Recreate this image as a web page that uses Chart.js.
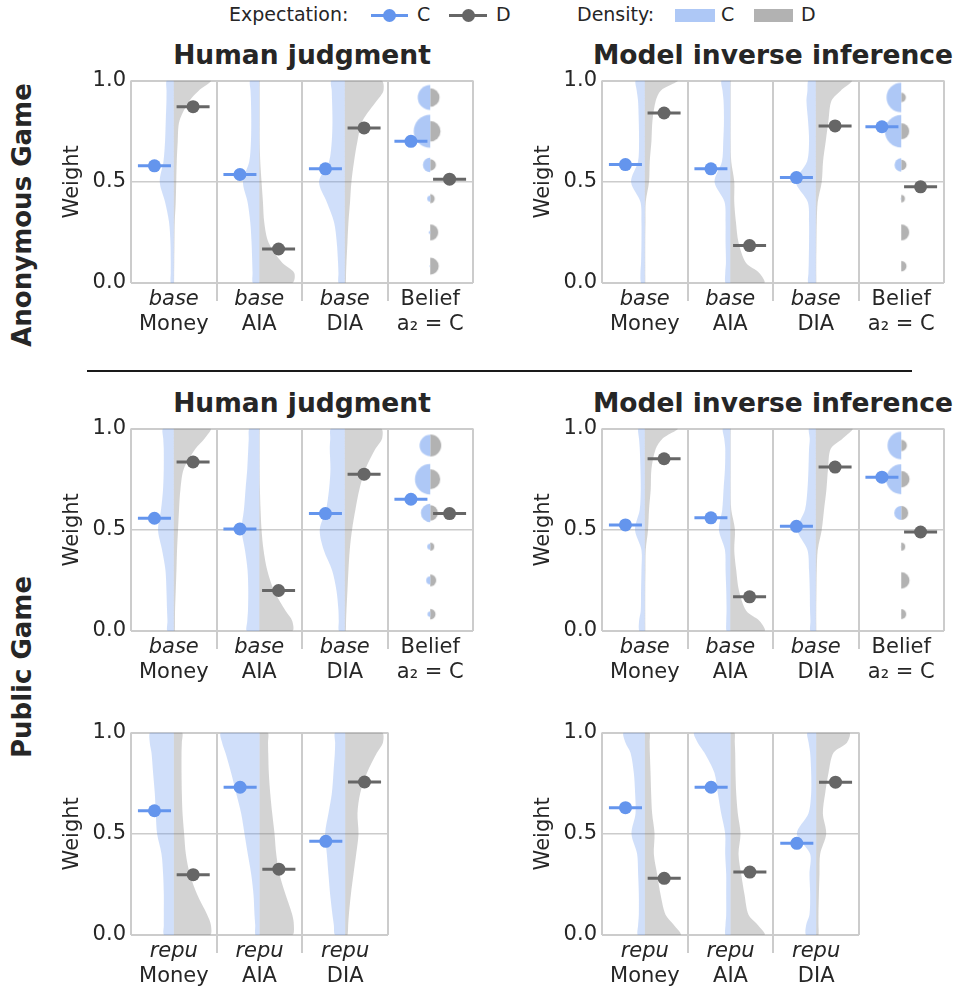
<!DOCTYPE html>
<html><head><meta charset="utf-8">
<script src="https://cdn.jsdelivr.net/npm/chart.js@4.4.1/dist/chart.umd.min.js"></script>
<style>
html,body{margin:0;padding:0;background:#fff}
body{width:958px;height:991px;position:relative;overflow:hidden;font-family:'DejaVu Sans',sans-serif;color:#262626}
canvas{position:absolute}
.ttl{position:absolute;font-weight:bold;font-size:26.5px;line-height:26.5px;white-space:nowrap;transform:translateX(-50%)}
.row{position:absolute;font-weight:bold;font-size:26px;line-height:26px;white-space:nowrap;transform:translate(-50%,-50%) rotate(-90deg)}
.lg{position:absolute;font-size:19px;line-height:19px;white-space:nowrap;top:5.4px}
.bar{position:absolute;height:3px;top:13.5px}
.dot{position:absolute;width:13px;height:13px;border-radius:50%;top:8.5px}
.patch{position:absolute;top:9px;height:13px}
</style></head><body>

<div class="lg" style="left:229px">Expectation:</div>
<div class="bar" style="left:371px;width:37px;background:#6495ED"></div>
<div class="dot" style="left:383px;background:#6495ED"></div>
<div class="lg" style="left:417px">C</div>
<div class="bar" style="left:449px;width:38px;background:#666666"></div>
<div class="dot" style="left:461.5px;background:#666666"></div>
<div class="lg" style="left:496px">D</div>
<div class="lg" style="left:577px">Density:</div>
<div class="patch" style="left:675px;width:40px;background:rgb(174,200,246)"></div>
<div class="lg" style="left:721px">C</div>
<div class="patch" style="left:754px;width:39px;background:rgb(178,178,178)"></div>
<div class="lg" style="left:801px">D</div>

<div class="ttl" style="left:302px;top:41.6px">Human judgment</div>
<div class="ttl" style="left:773px;top:41.6px">Model inverse inference</div>
<div class="ttl" style="left:302px;top:389.6px">Human judgment</div>
<div class="ttl" style="left:773px;top:389.6px">Model inverse inference</div>

<div class="row" style="left:22px;top:215px">Anonymous Game</div>
<div class="row" style="left:22px;top:667px">Public Game</div>
<div style="position:absolute;left:87px;width:825px;top:370px;height:1.6px;background:#1a1a1a"></div>

<script>
// ---------------- DATA ----------------
const yLevels = [0, 0.05, 0.1, 0.2, 0.3, 0.4, 0.5, 0.6, 0.7, 0.8, 0.9, 0.95, 1.0];
const beliefLevels = [1/12, 3/12, 5/12, 7/12, 9/12, 11/12];
const yTicks = [0, 0.5, 1.0];

const topBase = ['base', 'base', 'base', 'Belief'];
const bottomBase = ['Money', 'AIA', 'DIA', 'a\u2082 = C'];
const topRepu = ['repu', 'repu', 'repu'];
const bottomRepu = ['Money', 'AIA', 'DIA'];

// expectation means (C / D)
const anonHumanC = [0.579, 0.536, 0.564, 0.700];
const anonHumanD = [0.871, 0.168, 0.766, 0.513];
const anonModelC = [0.585, 0.564, 0.521, 0.772];
const anonModelD = [0.840, 0.185, 0.776, 0.475];
const pubHumanC = [0.557, 0.504, 0.580, 0.651];
const pubHumanD = [0.835, 0.200, 0.775, 0.580];
const pubModelC = [0.524, 0.559, 0.517, 0.760];
const pubModelD = [0.851, 0.169, 0.810, 0.489];
const pubHumanRepuC = [0.614, 0.730, 0.463];
const pubHumanRepuD = [0.298, 0.325, 0.756];
const pubModelRepuC = [0.629, 0.730, 0.453];
const pubModelRepuD = [0.280, 0.311, 0.755];

// violin densities at yLevels (Money, AIA, DIA)
const anonHumanDensC = [
  [3, 3, 3, 3.3, 4.7, 8.7, 14, 10.3, 8.7, 8, 7.3, 7.2, 7],
  [6.3, 6.7, 7, 7.7, 9, 11.7, 16.3, 10, 8.3, 8, 8.3, 8.7, 9],
  [6, 6.3, 6.7, 8, 10.7, 18, 25.7, 15.7, 13, 12.3, 12.7, 13, 13.3]];
const anonHumanDensD = [
  [0.3, 0.4, 0.5, 0.7, 1, 2, 2.5, 3, 4, 5.7, 15.7, 25, 37],
  [33, 35, 23, 9.3, 5, 3.7, 2.3, 1, 0.5, 0.5, 0.5, 0.5, 0.5],
  [1, 1.3, 1.7, 2.7, 3.7, 5.3, 6.7, 9.3, 12.7, 17.7, 32, 38.7, 36.7]];
const anonModelDensC = [
  [3.7, 4.3, 3.7, 3.3, 3.3, 4.3, 13.7, 6.7, 5.7, 6, 6.7, 8, 9],
  [4.7, 5, 4.3, 4.7, 4.7, 5.7, 15.7, 8.3, 7, 6.3, 6.7, 7.7, 8.7],
  [7.3, 7.3, 7, 6.7, 6.7, 8, 20, 8.7, 6.7, 7.7, 9.3, 8.3, 7.3]];
const anonModelDensD = [
  [0.5, 0.5, 0.5, 0.5, 0.7, 1, 4.3, 5, 6.7, 7.7, 11, 16, 33],
  [34, 29, 15.7, 8.3, 5.7, 4, 4, 1, 0.5, 0.5, 0.5, 0.5, 0.5],
  [0.5, 0.5, 0.5, 0.7, 1, 2, 6, 7.3, 10, 12.7, 15.7, 25, 36]];
const pubHumanDensC = [
  [6.3, 6.3, 6.7, 7.3, 8.3, 11.7, 15.7, 12.7, 10.7, 10, 10, 10.5, 10.7],
  [12.3, 12, 11.3, 11, 11.7, 14.3, 17.7, 15.3, 13.7, 12, 11, 10.5, 9.7],
  [5.7, 6, 6.3, 8.3, 12.7, 21, 25, 18.7, 15.7, 14.3, 15, 14.5, 13.7]];
const pubHumanDensD = [
  [1, 1.2, 1.3, 2, 2.7, 3.3, 4.3, 5.3, 6.7, 10, 21.7, 30.7, 36.7],
  [33, 33, 26.3, 14.7, 8, 4.3, 2.3, 1.3, 0.7, 0.5, 0.5, 0.5, 0.5],
  [1, 1.3, 1.7, 2.7, 3.7, 5, 7.3, 10.7, 14.7, 20.7, 30.7, 37.3, 36.3]];
const pubModelDensC = [
  [5.3, 5.7, 4, 3.7, 3.3, 3.3, 9.7, 5, 4, 4.3, 5, 5.7, 6.3],
  [3.7, 4, 3.7, 4, 4.7, 5.3, 11.3, 8, 6.7, 5.3, 5, 6, 7.3],
  [5.3, 5.3, 5.7, 6, 6.7, 8.3, 18.3, 10.7, 8.3, 7.3, 6.7, 6, 6.7]];
const pubModelDensD = [
  [0.5, 0.5, 0.5, 0.5, 0.7, 1, 3.3, 4.3, 6, 6.7, 11, 17.7, 33],
  [34.3, 29.3, 16, 8.7, 6, 4, 4.7, 1, 0.5, 0.5, 0.5, 0.5, 0.5],
  [0.5, 0.5, 0.5, 0.7, 1, 2, 6, 8.3, 10.7, 12.3, 15, 26.7, 36.7]];
const pubHumanRepuDensC = [
  [9.7, 10, 10, 10, 10.7, 12.3, 16.7, 18, 19, 20.7, 22.3, 24, 23.3],
  [4, 4.3, 5, 6, 8.3, 11.7, 15, 18.3, 23.3, 28.3, 34, 37.3, 38.3],
  [10, 11.3, 12.7, 15, 16.7, 18.3, 20, 16.7, 13.3, 11.7, 10.3, 10, 10]];
const pubHumanRepuDensD = [
  [36, 37, 33.3, 23.3, 16, 12, 10.3, 8.7, 8, 7.7, 7.7, 8, 8.3],
  [32.7, 34.3, 32.7, 26, 20, 16.7, 15, 12.7, 10.7, 9.3, 8.7, 8.5, 8.3],
  [2.3, 3, 3.7, 5.7, 8.3, 11, 13.3, 12.3, 15, 21.7, 31.7, 37.7, 36.7]];
const pubModelRepuDensC = [
  [7, 6.7, 6, 6, 6.7, 7.7, 13.3, 9.3, 9.7, 11, 14.3, 19.3, 21],
  [5, 5, 4.3, 4.3, 4.3, 5.3, 5.3, 9.3, 12.7, 16, 26, 32.7, 36],
  [10, 10, 6.7, 6, 6.7, 6, 19.3, 7.7, 5, 5, 6, 7.5, 8.7]];
const pubModelRepuDensD = [
  [35.7, 29, 20.7, 15.7, 12.3, 9, 9.7, 7.3, 6.3, 5.7, 5, 4.8, 4.7],
  [34, 27.3, 18, 14, 10.7, 8, 10, 7.3, 5.7, 5, 4.7, 4.3, 4],
  [2.3, 2.3, 2.3, 2.7, 3.3, 4, 10, 6.7, 9, 12.3, 17.3, 30.7, 33]];

// belief a2 = C: marker sizes at beliefLevels
const anonHumanBeliefC = [0.8, 1.5, 3, 7.3, 16.5, 12.5];
const anonHumanBeliefD = [8.5, 8, 4.5, 5.7, 10.3, 9.3];
const anonModelBeliefC = [0.2, 0.3, 0.7, 6.7, 16.3, 14.7];
const anonModelBeliefD = [5.3, 8, 3.7, 5.3, 8, 4.7];
const pubHumanBeliefC = [2.7, 4, 3, 9.3, 15.3, 10.7];
const pubHumanBeliefD = [5.3, 6, 4, 7.7, 10, 11];
const pubModelBeliefC = [0.3, 0.3, 0.5, 7, 15, 13.7];
const pubModelBeliefD = [5, 8.3, 4, 7, 8.3, 5.7];

// ---------------- STYLE / LAYOUT ----------------
const COLW = 85.5, PH = 202, PADL = 90, PADT = 14, PADR = 14, X1H = 29, X2H = 40;
const DODGE = 0.226, HALF = 0.193, DENS = 1 / 85.5;
const BLUE = '#6495ED', GRAYD = '#666666';
const VBLUE = 'rgba(100,149,237,0.3)', VGRAY = 'rgba(125,125,125,0.34)';
const CBLUE = 'rgb(174,200,246)', CGRAY = 'rgb(178,178,178)';
const GRID = '#cccccc', TXT = '#262626', NONE = 'rgba(0,0,0,0)';

Chart.defaults.font.family = "'DejaVu Sans'";
Chart.defaults.color = TXT;

const panels = [
  {x: 131, y: 81, top: topBase, bottom: bottomBase, mC: anonHumanC, mD: anonHumanD, dC: anonHumanDensC, dD: anonHumanDensD, bC: anonHumanBeliefC, bD: anonHumanBeliefD},
  {x: 602, y: 81, top: topBase, bottom: bottomBase, mC: anonModelC, mD: anonModelD, dC: anonModelDensC, dD: anonModelDensD, bC: anonModelBeliefC, bD: anonModelBeliefD},
  {x: 131, y: 429, top: topBase, bottom: bottomBase, mC: pubHumanC, mD: pubHumanD, dC: pubHumanDensC, dD: pubHumanDensD, bC: pubHumanBeliefC, bD: pubHumanBeliefD},
  {x: 602, y: 429, top: topBase, bottom: bottomBase, mC: pubModelC, mD: pubModelD, dC: pubModelDensC, dD: pubModelDensD, bC: pubModelBeliefC, bD: pubModelBeliefD},
  {x: 131, y: 733, top: topRepu, bottom: bottomRepu, mC: pubHumanRepuC, mD: pubHumanRepuD, dC: pubHumanRepuDensC, dD: pubHumanRepuDensD},
  {x: 602, y: 733, top: topRepu, bottom: bottomRepu, mC: pubModelRepuC, mD: pubModelRepuD, dC: pubModelRepuDensC, dD: pubModelRepuDensD}
];

const halfCache = {};
function halfDisk(r, side, color) {
  const key = r + side + color;
  if (halfCache[key]) return halfCache[key];
  const s = Math.ceil(r) * 2 + 2;
  const c = document.createElement('canvas');
  c.width = s; c.height = s;
  const g = c.getContext('2d');
  g.fillStyle = color;
  g.beginPath();
  g.moveTo(s / 2, s / 2 - r);
  g.arc(s / 2, s / 2, r, -Math.PI / 2, Math.PI / 2, side === 'L');
  g.closePath();
  g.fill();
  halfCache[key] = c;
  return c;
}

function violin(c, d, sgn, color) {
  const pts = [{x: c, y: 0}, {x: c, y: 0}];
  yLevels.forEach((y, k) => pts.push({x: c + sgn * d[k] * DENS, y: y}));
  pts.push({x: c, y: 1}, {x: c, y: 1});
  return {data: pts, showLine: true, fill: 'shape', backgroundColor: color, borderColor: NONE,
          borderWidth: 0, pointRadius: 0, pointHitRadius: 0, tension: 0.3, order: 3};
}

function labelAt(arr, v) {
  const i = Math.floor(v + 1e-9);
  return (Math.abs(v - i - 0.5) < 1e-6 && i < arr.length) ? arr[i] : '';
}
function isInt(v) { return Math.abs(v - Math.round(v)) < 1e-6; }

panels.forEach(p => {
  const n = p.top.length;
  const W = Math.round(n * COLW);
  const cv = document.createElement('canvas');
  cv.width = PADL + W + PADR;
  cv.height = PADT + PH + X1H + X2H;
  cv.style.left = (p.x - PADL) + 'px';
  cv.style.top = (p.y - PADT) + 'px';
  document.body.appendChild(cv);

  const ds = [];
  ds.push({data: p.mC.map((m, i) => ({x: i + 0.5 - DODGE, y: m})), showLine: false, pointRadius: 6.5,
           backgroundColor: BLUE, borderWidth: 0, order: 0});
  ds.push({data: p.mD.map((m, i) => ({x: i + 0.5 + DODGE, y: m})), showLine: false, pointRadius: 6.5,
           backgroundColor: GRAYD, borderWidth: 0, order: 0});
  p.mC.forEach((m, i) => ds.push({data: [{x: i + 0.5 - DODGE - HALF, y: m}, {x: i + 0.5 - DODGE + HALF, y: m}],
           showLine: true, borderColor: BLUE, borderWidth: 3, pointRadius: 0, order: 1}));
  p.mD.forEach((m, i) => ds.push({data: [{x: i + 0.5 + DODGE - HALF, y: m}, {x: i + 0.5 + DODGE + HALF, y: m}],
           showLine: true, borderColor: GRAYD, borderWidth: 3, pointRadius: 0, order: 1}));
  if (p.bC) {
    const bx = p.top.length - 0.5;
    ds.push({data: beliefLevels.map((y, k) => ({x: bx, y: y, r: p.bC[k]})), showLine: false, pointRadius: 3,
             pointStyle: ctx => ctx.raw ? halfDisk(ctx.raw.r, 'L', CBLUE) : 'circle', order: 2});
    ds.push({data: beliefLevels.map((y, k) => ({x: bx, y: y, r: p.bD[k]})), showLine: false, pointRadius: 3,
             pointStyle: ctx => ctx.raw ? halfDisk(ctx.raw.r, 'R', CGRAY) : 'circle', order: 2});
  }
  p.dC.forEach((d, i) => ds.push(violin(i + 0.5, d, -1, VBLUE)));
  p.dD.forEach((d, i) => ds.push(violin(i + 0.5, d, 1, VGRAY)));

  const ch = new Chart(cv, {
    type: 'scatter',
    data: {datasets: ds},
    options: {
      responsive: false, maintainAspectRatio: false, animation: false, events: [],
      layout: {padding: {left: 0, top: PADT, right: PADR, bottom: 0}},
      plugins: {legend: {display: false}, tooltip: {enabled: false}},
      scales: {
        x: {
          type: 'linear', position: 'bottom', min: 0, max: n,
          afterFit: s => { s.height = X1H; },
          ticks: {stepSize: 0.5, autoSkip: false, maxRotation: 0, minRotation: 0, padding: -14, color: TXT,
                  font: c => {
                    const v = c.tick ? c.tick.value : 0.5;
                    const lab = p.top[Math.min(n - 1, Math.floor(v))];
                    return {size: 21, style: lab === 'Belief' ? 'normal' : 'italic'};
                  },
                  callback: v => labelAt(p.top, v)},
          grid: {drawTicks: true, tickLength: 18, lineWidth: 2,
                 color: c => (c.tick && isInt(c.tick.value)) ? GRID : NONE,
                 tickColor: c => (c.tick && isInt(c.tick.value) && c.tick.value > 0 && c.tick.value < n) ? GRID : NONE},
          border: {display: false}
        },
        x2: {
          type: 'linear', position: 'bottom', min: 0, max: n,
          afterFit: s => { s.height = X2H; },
          ticks: {stepSize: 0.5, autoSkip: false, maxRotation: 0, minRotation: 0, padding: 0, color: TXT,
                  font: {size: 21}, callback: v => labelAt(p.bottom, v)},
          grid: {display: false, drawTicks: false},
          border: {display: false}
        },
        y: {
          min: 0, max: 1,
          afterFit: s => { s.width = PADL; },
          afterBuildTicks: s => { s.ticks = yTicks.map(v => ({value: v})); },
          ticks: {padding: 5, color: TXT, font: {size: 21}, callback: v => Number(v).toFixed(1)},
          grid: {drawTicks: false, color: GRID, lineWidth: c => (c.tick && c.tick.value === 0.5) ? 1.5 : 2},
          border: {display: false},
          title: {display: true, text: 'Weight', color: TXT, font: {size: 21}, padding: {top: 19, bottom: 0}}
        }
      }
    }
  });
  // keep the plot area at the reference size and place it at the reference position
  const dh = PH - (ch.chartArea.bottom - ch.chartArea.top);
  if (Math.abs(dh) > 0.01) ch.resize(cv.width, Math.round(cv.height + dh));
  cv.style.left = (p.x - ch.chartArea.left) + 'px';
  cv.style.top = (p.y - ch.chartArea.top) + 'px';
});
</script>
</body></html>
